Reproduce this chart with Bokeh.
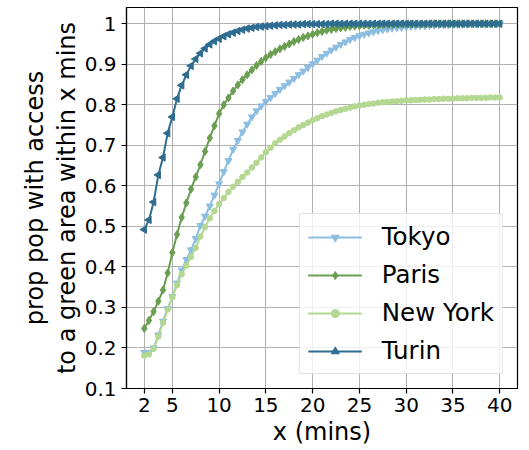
from bokeh.plotting import figure
from bokeh.models import FixedTicker, Range1d
from bokeh.embed import file_html
from bokeh.resources import INLINE

x_mins = [2.0, 2.5, 3.0, 3.5, 4.0, 4.5, 5.0, 5.5, 6.0, 6.5,
          7.0, 7.5, 8.0, 8.5, 9.0, 9.5, 10.0, 10.5, 11.0, 11.5,
          12.0, 12.5, 13.0, 13.5, 14.0, 14.5, 15.0, 15.5, 16.0, 16.5,
          17.0, 17.5, 18.0, 18.5, 19.0, 19.5, 20.0, 20.5, 21.0, 21.5,
          22.0, 22.5, 23.0, 23.5, 24.0, 24.5, 25.0, 25.5, 26.0, 26.5,
          27.0, 27.5, 28.0, 28.5, 29.0, 29.5, 30.0, 30.5, 31.0, 31.5,
          32.0, 32.5, 33.0, 33.5, 34.0, 34.5, 35.0, 35.5, 36.0, 36.5,
          37.0, 37.5, 38.0, 38.5, 39.0, 39.5, 40.0]

tokyo = [0.189, 0.189, 0.200, 0.232, 0.266, 0.297, 0.327, 0.360, 0.392, 0.418,
         0.442, 0.470, 0.502, 0.525, 0.550, 0.577, 0.605, 0.635, 0.662, 0.690,
         0.712, 0.733, 0.752, 0.770, 0.785, 0.797, 0.808, 0.818, 0.828, 0.838,
         0.847, 0.856, 0.865, 0.874, 0.883, 0.892, 0.901, 0.910, 0.919, 0.927,
         0.935, 0.942, 0.949, 0.955, 0.961, 0.966, 0.970, 0.974, 0.977, 0.980,
         0.983, 0.985, 0.987, 0.989, 0.990, 0.991, 0.992, 0.993, 0.994, 0.995,
         0.995, 0.996, 0.996, 0.997, 0.997, 0.997, 0.998, 0.998, 0.998, 0.998,
         0.999, 0.999, 0.999, 0.999, 0.999, 1.000, 1.000]

paris = [0.248, 0.268, 0.290, 0.315, 0.343, 0.385, 0.435, 0.480, 0.522, 0.558,
         0.592, 0.622, 0.652, 0.685, 0.718, 0.748, 0.778, 0.800, 0.817, 0.834,
         0.849, 0.862, 0.874, 0.886, 0.897, 0.907, 0.916, 0.924, 0.931, 0.938,
         0.944, 0.950, 0.956, 0.961, 0.966, 0.970, 0.974, 0.978, 0.981, 0.984,
         0.986, 0.988, 0.990, 0.991, 0.993, 0.994, 0.995, 0.996, 0.996, 0.997,
         0.997, 0.998, 0.998, 0.998, 0.999, 0.999, 0.999, 0.999, 0.999, 0.999,
         0.999, 1.000, 1.000, 1.000, 1.000, 1.000, 1.000, 1.000, 1.000, 1.000,
         1.000, 1.000, 1.000, 1.000, 1.000, 1.000, 1.000]

new_york = [0.181, 0.184, 0.198, 0.228, 0.262, 0.295, 0.325, 0.355, 0.382, 0.403,
            0.425, 0.447, 0.475, 0.498, 0.520, 0.538, 0.555, 0.570, 0.585, 0.598,
            0.610, 0.622, 0.633, 0.645, 0.657, 0.670, 0.683, 0.694, 0.705, 0.714,
            0.722, 0.730, 0.737, 0.744, 0.750, 0.756, 0.762, 0.767, 0.772, 0.776,
            0.780, 0.784, 0.787, 0.790, 0.793, 0.796, 0.798, 0.800, 0.802, 0.803,
            0.805, 0.806, 0.807, 0.808, 0.809, 0.810, 0.811, 0.811, 0.812, 0.812,
            0.813, 0.813, 0.814, 0.814, 0.815, 0.815, 0.815, 0.816, 0.816, 0.816,
            0.817, 0.817, 0.817, 0.817, 0.818, 0.818, 0.818]

turin = [0.492, 0.516, 0.560, 0.627, 0.670, 0.730, 0.770, 0.815, 0.848, 0.874,
         0.896, 0.913, 0.927, 0.939, 0.949, 0.957, 0.963, 0.969, 0.974, 0.978,
         0.982, 0.985, 0.988, 0.990, 0.992, 0.993, 0.994, 0.995, 0.996, 0.997,
         0.997, 0.998, 0.998, 0.998, 0.999, 0.999, 0.999, 0.999, 0.999, 0.999,
         1.000, 1.000, 1.000, 1.000, 1.000, 1.000, 1.000, 1.000, 1.000, 1.000,
         1.000, 1.000, 1.000, 1.000, 1.000, 1.000, 1.000, 1.000, 1.000, 1.000,
         1.000, 1.000, 1.000, 1.000, 1.000, 1.000, 1.000, 1.000, 1.000, 1.000,
         1.000, 1.000, 1.000, 1.000, 1.000, 1.000, 1.000]

x_ticks = [2, 5, 10, 15, 20, 25, 30, 35, 40]
y_ticks = [0.1, 0.2, 0.3, 0.4, 0.5, 0.6, 0.7, 0.8, 0.9, 1.0]

FONT = "DejaVu Sans"

p = figure(width=529, height=450, output_backend="svg", toolbar_location=None,
           x_range=Range1d(0.1, 41.9), y_range=Range1d(0.1, 1.04),
           min_border_left=126, min_border_right=12, min_border_top=7,
           min_border_bottom=62)
p.background_fill_color = "white"
p.border_fill_color = "white"
p.outline_line_color = "black"
p.outline_line_width = 1.2

series = [
    ("Tokyo", tokyo, "#8cbee1", "inverted_triangle", 0, 7),
    ("Paris", paris, "#6a9e50", "diamond", 0, 8),
    ("New York", new_york, "#b4d891", "circle", 0, 5.5),
    ("Turin", turin, "#2e6c91", "triangle", 90, 7.5),
]
for name, vals, col, mk, ang, sz in series:
    p.line(x_mins, vals, line_color=col, line_width=2, legend_label=name)
    p.scatter(x_mins, vals, marker=mk, angle=ang, angle_units="deg", size=sz,
              fill_color=col, line_color=col, legend_label=name)

for ax in (p.xaxis, p.yaxis):
    ax.axis_line_color = "black"
    ax.axis_line_width = 1.2
    ax.major_tick_line_color = "black"
    ax.major_tick_line_width = 1.2
    ax.major_tick_out = 5
    ax.major_tick_in = 0
    ax.minor_tick_line_color = None
    ax.major_label_text_font = FONT
    ax.major_label_text_font_size = "20px"
    ax.major_label_text_color = "black"
    ax.axis_label_text_font = FONT
    ax.axis_label_text_font_size = "24px"
    ax.axis_label_text_font_style = "normal"
    ax.axis_label_text_color = "black"

p.xaxis.ticker = FixedTicker(ticks=x_ticks)
p.yaxis.ticker = FixedTicker(ticks=y_ticks)
p.yaxis.major_label_overrides = {1: "1", 1.0: "1"}
p.xaxis.axis_label = "x (mins)"
p.yaxis.axis_label = "prop pop with access\nto a green area within x mins"
p.xaxis.major_label_text_line_height = 1.0
p.xaxis.axis_label_text_line_height = 1.0
p.xaxis.major_label_standoff = 4
p.xaxis.axis_label_standoff = 3
p.yaxis.major_label_standoff = 5
p.yaxis.axis_label_standoff = 1
p.yaxis.axis_label_text_line_height = 1.14

p.grid.grid_line_color = "#b0b0b0"
p.grid.grid_line_width = 1
p.xgrid.ticker = FixedTicker(ticks=x_ticks)
p.ygrid.ticker = FixedTicker(ticks=y_ticks)

lg = p.legend[0]
lg.location = "bottom_right"
lg.margin = 14
lg.padding = 8
lg.spacing = 9
lg.glyph_width = 54
lg.glyph_height = 20
lg.label_height = 20
lg.label_standoff = 20
lg.label_text_font = FONT
lg.label_text_font_size = "24.5px"
lg.label_text_color = "black"
lg.border_line_color = "#cccccc"
lg.border_line_width = 1
lg.background_fill_alpha = 0.8

open("out.html", "w").write(file_html(p, INLINE))
